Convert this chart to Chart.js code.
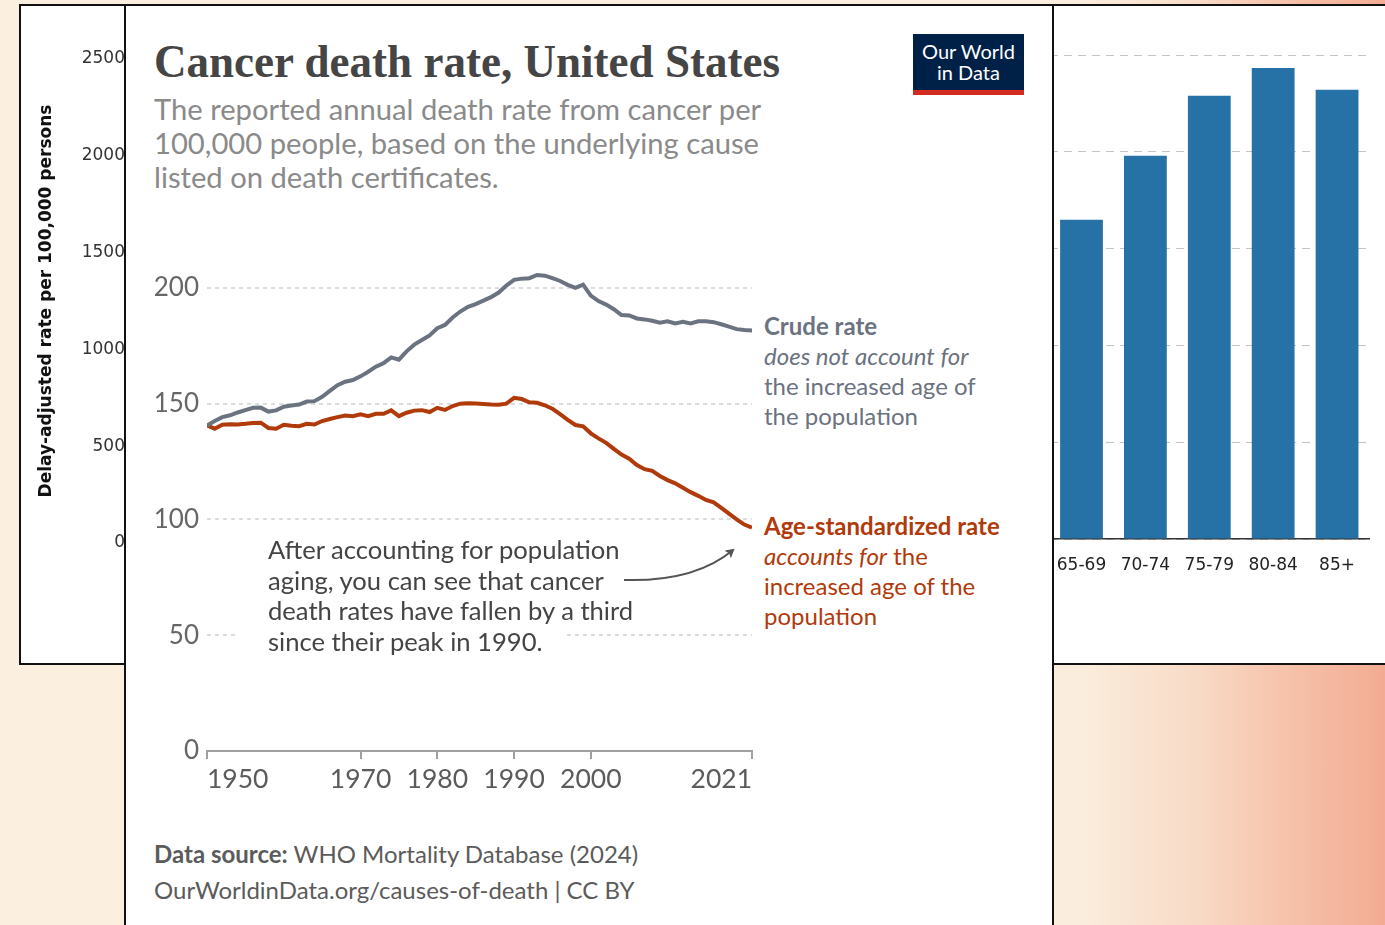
<!DOCTYPE html>
<html>
<head>
<meta charset="utf-8">
<script src="https://cdn.jsdelivr.net/npm/chart.js@4.4.1/dist/chart.umd.min.js"></script>
<style>
  html, body { margin: 0; padding: 0; }
  body {
    width: 1385px; height: 925px; overflow: hidden; position: relative;
    background: linear-gradient(90deg, #fbefdf 0%, #fbeddd 78%, #f8dcc8 86%, #f6c2aa 93%, #f3ab93 100%);
    font-family: Lato, sans-serif;
  }
  .abs { position: absolute; }
  #panel { left: 19px; top: 4px; width: 1372px; height: 661px; box-sizing: border-box; border: 2px solid #111; background: #fff; z-index: 1; }
  #bgAxis { left: 21px; top: 6px; z-index: 2; }
  #bgBars { left: 1040px; top: 6px; z-index: 2; }
  #card { left: 124px; top: 4px; width: 930px; height: 940px; box-sizing: border-box; border: 2px solid #111; background: #fff; z-index: 3; }
  #mainChart { left: 140px; top: 218px; z-index: 4; }
  .txt { position: absolute; z-index: 5; white-space: nowrap; }
  #title { left: 154px; top: 34px; font-family: "Liberation Serif", serif; font-weight: bold; font-size: 47px; line-height: 54px; color: #454545; transform-origin: left center; }
  #subtitle { left: 154px; top: 92px; font-size: 29.2px; line-height: 34px; color: #8a8a8a; }
  #logo { left: 913px; top: 34px; width: 111px; height: 61px; background: #002147; z-index: 5; color: #fff; font-size: 20px; line-height: 21px; text-align: center; box-sizing: border-box; padding-top: 7px; border-bottom: 5px solid #d42b21; }
  .label { font-size: 24px; line-height: 30px; }
  #crudeLabel { left: 764px; top: 311px; color: #6b7280; }
  #ageLabel { left: 764px; top: 511px; color: #b13a0b; }
  .label b { font-weight: bold; }
  #note { left: 268px; top: 534px; font-size: 25.6px; line-height: 30.7px; color: #444; }
  #note span { display: block; width: fit-content; background: #fff; }
  #note span.last { padding: 0 20px 0 33px; margin-left: -33px; }
  #footer { left: 154px; top: 836px; font-size: 24px; line-height: 36px; color: #5b5b5b; }
  #arrow { left: 0; top: 0; z-index: 6; pointer-events: none; }
</style>
</head>
<body>
<div id="panel" class="abs"></div>
<canvas id="bgAxis" class="abs" width="110" height="657"></canvas>
<canvas id="bgBars" class="abs" width="345" height="657"></canvas>
<div id="card" class="abs"></div>
<canvas id="mainChart" class="abs" width="620" height="583"></canvas>

<div id="title" class="txt">Cancer death rate, United States</div>
<div id="subtitle" class="txt">The reported annual death rate from cancer per<br>100,000 people, based on the underlying cause<br>listed on death certificates.</div>
<div id="logo" class="abs">Our World<br>in Data</div>

<div id="crudeLabel" class="txt label"><b>Crude rate</b><br><i>does not account for</i><br>the increased age of<br>the population</div>
<div id="ageLabel" class="txt label"><b>Age-standardized rate</b><br><i>accounts for</i> the<br>increased age of the<br>population</div>

<div id="note" class="txt">
  <span>After accounting for population</span>
  <span>aging, you can see that cancer</span>
  <span>death rates have fallen by a third</span>
  <span class="last">since their peak in 1990.</span>
</div>

<div id="footer" class="txt"><b>Data source:</b> WHO Mortality Database (2024)<br>OurWorldinData.org/causes-of-death | CC BY</div>

<svg id="arrow" class="abs" width="1385" height="925">
  <defs>
    <marker id="head" markerWidth="10" markerHeight="10" refX="7" refY="5" orient="auto" markerUnits="userSpaceOnUse">
      <path d="M0,0 L9,5 L0,10 L2,5 Z" fill="#555"/>
    </marker>
  </defs>
  <path d="M 624 580 Q 695 582 733 550" fill="none" stroke="#555" stroke-width="2" marker-end="url(#head)"/>
</svg>

<script>
// main chart data (deaths per 100,000)
const years = [1950, 1951, 1952, 1953, 1954, 1955, 1956, 1957, 1958, 1959,
  1960, 1961, 1962, 1963, 1964, 1965, 1966, 1967, 1968, 1969,
  1970, 1971, 1972, 1973, 1974, 1975, 1976, 1977, 1978, 1979,
  1980, 1981, 1982, 1983, 1984, 1985, 1986, 1987, 1988, 1989,
  1990, 1991, 1992, 1993, 1994, 1995, 1996, 1997, 1998, 1999,
  2000, 2001, 2002, 2003, 2004, 2005, 2006, 2007, 2008, 2009,
  2010, 2011, 2012, 2013, 2014, 2015, 2016, 2017, 2018, 2019,
  2020, 2021]
const crudeRate = [140.6, 142.5, 144.2, 145.0, 146.2, 147.2, 148.2, 148.3, 146.6, 147.1,
  148.7, 149.2, 149.6, 150.9, 151.1, 153.0, 155.5, 158.0, 159.5, 160.2,
  161.8, 163.8, 166.0, 167.5, 170.0, 169.0, 172.6, 175.5, 177.5, 179.5,
  182.6, 184.0, 187.2, 189.8, 191.8, 193.0, 194.5, 196.0, 198.0, 201.0,
  203.5, 204.0, 204.2, 205.6, 205.3, 204.2, 203.0, 201.3, 200.0, 201.4,
  196.7, 194.3, 192.8, 190.8, 188.3, 188.1, 186.8, 186.4, 185.8, 185.0,
  185.6, 184.7, 185.4, 184.7, 185.6, 185.6, 185.2, 184.3, 183.3, 182.2,
  181.8, 181.6]
const ageStandardizedRate = [140.6, 139.2, 140.9, 141.1, 141.0, 141.3, 141.7, 141.8, 139.5, 139.2,
  140.9, 140.5, 140.3, 141.3, 141.0, 142.5, 143.4, 144.2, 144.9, 144.6,
  145.4, 144.6, 145.6, 145.6, 147.1, 144.6, 146.1, 147.0, 147.2, 146.4,
  148.2, 147.3, 149.0, 150.0, 150.2, 150.1, 149.9, 149.6, 149.5, 150.0,
  152.5, 152.0, 150.6, 150.4, 149.3, 147.8, 145.5, 143.0, 140.8, 140.2,
  137.2, 135.0, 133.1, 130.5, 128.0, 126.2, 123.5, 121.7, 121.0, 118.8,
  117.0, 115.6, 113.7, 111.8, 110.2, 108.4, 107.4, 105.0, 102.5, 100.0,
  97.8, 96.5]
const yTicks = [0, 50, 100, 150, 200]
const xTicks = [1950, 1970, 1980, 1990, 2000, 2021]

// background bar chart
const ageGroups = ['65-69', '70-74', '75-79', '80-84', '85+']
const ageGroupRates = [1649, 1979, 2289, 2433, 2320]
const bgTicks = [0, 500, 1000, 1500, 2000, 2500]

Chart.defaults.font.family = 'Lato'
Chart.defaults.animation = false

const toPoints = vals => vals.map((v, i) => ({ x: years[i], y: v }))

new Chart(document.getElementById('mainChart'), {
  type: 'line',
  data: {
    datasets: [
      { label: 'Crude rate', data: toPoints(crudeRate), borderColor: '#6b7280', borderWidth: 4, pointRadius: 0, tension: 0 },
      { label: 'Age-standardized rate', data: toPoints(ageStandardizedRate), borderColor: '#b13a0b', borderWidth: 4, pointRadius: 0, tension: 0 }
    ]
  },
  options: {
    responsive: false,
    layout: { padding: { top: 20, right: 8, bottom: 5, left: 0 } },
    plugins: { legend: { display: false }, tooltip: { enabled: false } },
    scales: {
      x: {
        type: 'linear', min: 1950, max: 2021,
        afterBuildTicks: s => { s.ticks = xTicks.map(v => ({ value: v })) },
        afterFit: s => { s.height = 45 },
        ticks: { callback: v => String(v), color: '#5b5b5b', font: { size: 26.5 }, align: 'inner', padding: 5, maxRotation: 0, autoSkip: false },
        grid: { drawOnChartArea: false, drawTicks: true, tickLength: 8, color: '#a0a0a0', lineWidth: 2 },
        border: { color: '#a0a0a0', width: 2 }
      },
      y: {
        min: 0, max: 220,
        afterBuildTicks: s => { s.ticks = yTicks.map(v => ({ value: v })) },
        afterFit: s => { s.width = 67 },
        ticks: { color: '#666', font: { size: 26 }, padding: 8 },
        grid: { color: ctx => ctx.tick && ctx.tick.value === 0 ? 'rgba(0,0,0,0)' : '#dcdcdc', lineWidth: 2, drawTicks: false },
        border: { display: false, dash: [4, 4] }
      }
    }
  }
})

// left strip of the background chart: only its y axis shows
new Chart(document.getElementById('bgAxis'), {
  type: 'bar',
  data: { labels: [], datasets: [] },
  options: {
    responsive: false,
    layout: { padding: { top: 53, right: 0, bottom: 120, left: 0 } },
    plugins: { legend: { display: false }, tooltip: { enabled: false } },
    scales: {
      x: { display: false },
      y: {
        min: 0, max: 2500,
        afterBuildTicks: s => { s.ticks = bgTicks.map(v => ({ value: v })) },
        afterFit: s => { s.width = 107 },
        ticks: { callback: v => String(v), color: '#333', font: { family: 'DejaVu Sans', size: 17 }, padding: 3 },
        grid: { display: false, drawTicks: false, tickLength: 0 },
        border: { display: false },
        title: { display: true, text: 'Delay-adjusted rate per 100,000 persons', color: '#111', font: { family: 'DejaVu Sans', weight: 'bold', size: 17 }, padding: { top: 15, bottom: 0 } }
      }
    }
  }
})

new Chart(document.getElementById('bgBars'), {
  type: 'bar',
  data: {
    labels: ageGroups,
    datasets: [{ data: ageGroupRates, backgroundColor: '#2672a6', categoryPercentage: 1, barPercentage: 0.67 }]
  },
  options: {
    responsive: false,
    layout: { padding: { top: 49, right: 16, bottom: 84, left: 8 } },
    plugins: { legend: { display: false }, tooltip: { enabled: false } },
    scales: {
      x: {
        afterFit: s => { s.height = 40 },
        ticks: { color: '#222', font: { family: 'DejaVu Sans', size: 17 }, padding: 16 },
        grid: { drawOnChartArea: false, drawTicks: false },
        border: { color: '#333', width: 1.5 }
      },
      y: {
        min: 0, max: 2500,
        afterBuildTicks: s => { s.ticks = bgTicks.map(v => ({ value: v })) },
        ticks: { display: false },
        grid: { color: '#c4c4c4', lineWidth: 1, drawTicks: false },
        border: { display: false, dash: [8, 6] }
      }
    }
  }
})

// squeeze the serif title to the width of the original heading
const title = document.getElementById('title')
const w = title.getBoundingClientRect().width
if (w > 0) title.style.transform = `scaleX(${626 / w})`
</script>
</body>
</html>
